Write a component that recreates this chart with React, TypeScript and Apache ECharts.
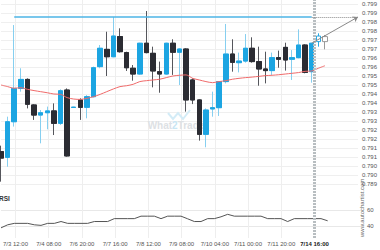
import React, { useEffect, useRef } from 'react';
import * as echarts from 'echarts';

// category slots (4h candles + projection space)
const categories: string[] = Array.from({ length: 55 }, (_, i) => String(i));
const tickLabels = ['7/3 12:00', '7/4 08:00', '7/6 20:00', '7/7 16:00', '7/8 12:00', '7/9 08:00', '7/10 04:00', '7/11 00:00', '7/11 20:00', '7/14 16:00'];
const firstLabelIndex = 2;
const labelStep = 5;

// [open, close, low, high]
const candles: number[][] = [
  [0.79130, 0.79094, 0.78963, 0.79163],
  [0.79098, 0.79296, 0.79046, 0.79324],
  [0.79296, 0.79481, 0.79269, 0.79833],
  [0.79481, 0.79531, 0.79463, 0.79593],
  [0.79531, 0.79393, 0.79370, 0.79537],
  [0.79389, 0.79333, 0.79306, 0.79393],
  [0.79333, 0.79346, 0.79176, 0.79361],
  [0.79346, 0.79356, 0.79254, 0.79380],
  [0.79356, 0.79287, 0.79222, 0.79398],
  [0.79287, 0.79468, 0.79278, 0.79476],
  [0.79472, 0.79106, 0.79102, 0.79481],
  [0.79375, 0.79377, 0.79373, 0.79379],
  [0.79417, 0.79376, 0.79306, 0.79426],
  [0.79376, 0.79435, 0.79315, 0.79444],
  [0.79435, 0.79596, 0.79431, 0.79602],
  [0.79602, 0.79704, 0.79593, 0.79722],
  [0.79698, 0.79657, 0.79550, 0.79796],
  [0.79657, 0.79772, 0.79654, 0.79878],
  [0.79769, 0.79685, 0.79680, 0.79815],
  [0.79680, 0.79596, 0.79578, 0.79685],
  [0.79593, 0.79561, 0.79524, 0.79611],
  [0.79561, 0.79732, 0.79556, 0.79735],
  [0.79732, 0.79680, 0.79676, 0.79911],
  [0.79676, 0.79578, 0.79487, 0.79713],
  [0.79574, 0.79561, 0.79457, 0.79630],
  [0.79561, 0.79732, 0.79556, 0.79735],
  [0.79732, 0.79682, 0.79556, 0.79754],
  [0.79682, 0.79700, 0.79500, 0.79704],
  [0.79700, 0.79417, 0.79352, 0.79704],
  [0.79528, 0.79417, 0.79394, 0.79537],
  [0.79417, 0.79226, 0.79191, 0.79420],
  [0.79226, 0.79361, 0.79154, 0.79370],
  [0.79367, 0.79374, 0.79324, 0.79463],
  [0.79374, 0.79519, 0.79328, 0.79522],
  [0.79519, 0.79672, 0.79509, 0.79839],
  [0.79672, 0.79626, 0.79574, 0.79754],
  [0.79624, 0.79633, 0.79570, 0.79680],
  [0.79633, 0.79704, 0.79624, 0.79783],
  [0.79704, 0.79630, 0.79624, 0.79765],
  [0.79630, 0.79589, 0.79496, 0.79713],
  [0.79589, 0.79580, 0.79509, 0.79685],
  [0.79580, 0.79652, 0.79556, 0.79680],
  [0.79652, 0.79643, 0.79596, 0.79691],
  [0.79709, 0.79639, 0.79580, 0.79735],
  [0.79643, 0.79652, 0.79528, 0.79694],
  [0.79652, 0.79722, 0.79648, 0.79809],
  [0.79722, 0.79570, 0.79565, 0.79726],
  [0.79574, 0.79732, 0.79513, 0.79735],
];

// projected candles after the last one
const projected: number[][] = [
  [0.79741, 0.79772, 0.79713, 0.79787],
  [0.79741, 0.79769, 0.79698, 0.79778],
];
const projectedColors = ['#2aa8e2', '#9a9a9a'];

const maValues = [
  0.79500, 0.79491, 0.79482, 0.79485, 0.79476, 0.79469, 0.79463, 0.79457, 0.79450, 0.79448,
  0.79430, 0.79422, 0.79420, 0.79426, 0.79435, 0.79448, 0.79463, 0.79478, 0.79491, 0.79496,
  0.79504, 0.79519, 0.79524, 0.79528, 0.79532, 0.79541, 0.79550, 0.79554, 0.79556, 0.79537,
  0.79528, 0.79519, 0.79513, 0.79519, 0.79524, 0.79532, 0.79537, 0.79541, 0.79544, 0.79548,
  0.79552, 0.79554, 0.79557, 0.79561, 0.79565, 0.79569, 0.79576, 0.79578, 0.79593, 0.79607,
];

const rsiValues = [
  37.7, 41.5, 43.3, 43.3, 43.3, 41.5, 40.8, 43.3, 43.3, 45.6,
  43.3, 43.3, 43.3, 43.3, 45.6, 45.6, 45.6, 49.2, 49.2, 49.2,
  49.2, 52.3, 52.3, 52.3, 49.2, 52.3, 52.3, 52.3, 49.0, 45.6,
  45.6, 49.2, 49.2, 51.5, 54.6, 52.3, 52.3, 52.3, 52.3, 52.3,
  49.2, 49.2, 49.2, 45.6, 49.2, 49.2, 49.2, 49.2, 49.2, 46.5,
];

const resistance = 0.79878;
const resistanceStart = 2;
const lastIndex = 47;
const arrowEndIndex = 54;
const priceMin = 0.7895;
const priceMax = 0.7995;
const priceStep = 0.0005;

const FONT = 'Liberation Sans, Arial, sans-serif';

const isLabelIndex = (i: number) => i >= firstLabelIndex && (i - firstLabelIndex) % labelStep === 0 && (i - firstLabelIndex) / labelStep < tickLabels.length;

export default function App() {
  const ref = useRef<HTMLDivElement>(null);

  useEffect(() => {
    if (!ref.current) return;
    const chart = echarts.init(ref.current, undefined, { renderer: 'svg' });

    const bodies = candles.map(([o, c]) => [o, c, Math.min(o, c), Math.max(o, c)]);
    const projData: any[] = candles.map(() => '-');
    projected.forEach((p, k) => {
      projData.push({
        value: p,
        itemStyle: { color: '#ffffff', color0: '#ffffff', borderColor: projectedColors[k], borderColor0: projectedColors[k], borderWidth: 1 },
      });
    });
    const maData = maValues;
    const lastClose = candles[lastIndex][1];

    const hiddenX = (gridIndex: number) => ({
      type: 'category' as const,
      gridIndex,
      data: categories,
      boundaryGap: false,
      show: false,
    });

    chart.setOption({
      animation: false,
      backgroundColor: '#ffffff',
      textStyle: { fontFamily: FONT },
      grid: [
        { left: 1, top: 0, width: 360, height: 238 },
        { left: 1, top: 4, width: 360, height: 180 },
        { left: 1, top: 210, width: 360, height: 16 },
      ],
      xAxis: [
        {
          type: 'category',
          gridIndex: 0,
          data: categories,
          boundaryGap: false,
          axisLine: { show: false },
          axisTick: { show: false },
          axisLabel: {
            interval: (i: number) => isLabelIndex(i),
            formatter: (_v: string, i: number) => {
              const k = (i - firstLabelIndex) / labelStep;
              const t = tickLabels[k] ?? '';
              return i === lastIndex ? '{b|' + t + '}' : t;
            },
            fontSize: 6,
            color: '#555',
            margin: 3,
            fontFamily: FONT,
            rich: { b: { fontSize: 6, fontWeight: 'bold', color: '#222', fontFamily: FONT } },
          },
          splitLine: {
            show: true,
            interval: (i: number) => isLabelIndex(i) && i !== lastIndex,
            lineStyle: { color: '#eeeeee', width: 1 },
          },
        },
        hiddenX(1),
        hiddenX(2),
      ],
      yAxis: [
        { type: 'value', gridIndex: 0, min: 0, max: 1, show: false },
        {
          type: 'value',
          gridIndex: 1,
          position: 'right',
          min: priceMin,
          max: priceMax,
          interval: priceStep,
          axisLine: { show: false },
          axisTick: { show: false },
          axisLabel: {
            fontSize: 6,
            color: '#555',
            margin: 4,
            fontFamily: FONT,
            formatter: (v: number) => (Math.floor(v * 1000 + 1e-6) / 1000).toFixed(3),
          },
          splitLine: { lineStyle: { color: '#efefef', width: 1 } },
        },
        {
          type: 'value',
          gridIndex: 2,
          position: 'right',
          min: 40,
          max: 60,
          interval: 20,
          axisLine: { show: false },
          axisTick: { show: false },
          axisLabel: { fontSize: 6, color: '#555', margin: 6, fontFamily: FONT },
          splitLine: { lineStyle: { color: '#e8e8e8', width: 1 } },
        },
      ],
      series: [
        {
          type: 'line',
          xAxisIndex: 0,
          yAxisIndex: 0,
          data: [],
          silent: true,
          markLine: {
            silent: true,
            symbol: ['none', 'none'],
            label: { show: false },
            lineStyle: { color: '#b8bec1', width: 3, type: [2, 1] },
            data: [{ xAxis: lastIndex }],
          },
        },
        {
          type: 'candlestick',
          xAxisIndex: 1,
          yAxisIndex: 1,
          data: candles,
          barWidth: 5,
          itemStyle: { color: '#86cff0', color0: '#55565c', borderColor: '#86cff0', borderColor0: '#55565c', borderWidth: 1 },
        },
        {
          type: 'candlestick',
          xAxisIndex: 1,
          yAxisIndex: 1,
          data: bodies,
          barWidth: 5,
          itemStyle: { color: '#1ca5e2', color0: '#2b2c33', borderColor: '#1ca5e2', borderColor0: '#2b2c33', borderWidth: 1 },
        },
        {
          type: 'candlestick',
          xAxisIndex: 1,
          yAxisIndex: 1,
          data: projData,
          barWidth: 5,
        },
        {
          type: 'line',
          xAxisIndex: 1,
          yAxisIndex: 1,
          data: maData,
          showSymbol: false,
          smooth: 0.3,
          lineStyle: { color: '#f06a6a', width: 1 },
          z: 3,
        },
        {
          type: 'line',
          xAxisIndex: 1,
          yAxisIndex: 1,
          data: [],
          markLine: {
            silent: true,
            symbol: ['none', 'none'],
            label: { show: false },
            data: [
              [
                { coord: [resistanceStart, resistance], lineStyle: { color: '#4cb5e6', width: 1.5, type: 'solid' } },
                { coord: [lastIndex, resistance] },
              ],
              [
                { coord: [lastIndex, resistance], lineStyle: { color: '#8a8a8a', width: 1, type: [1, 1] } },
                { coord: [arrowEndIndex, resistance] },
              ],
              [
                { coord: [lastIndex, lastClose], lineStyle: { color: '#8a8a8a', width: 1, type: 'solid' } },
                { coord: [arrowEndIndex, resistance], symbol: 'arrow', symbolSize: 5 },
              ],
            ],
          },
        },
        {
          type: 'line',
          xAxisIndex: 2,
          yAxisIndex: 2,
          data: rsiValues,
          showSymbol: false,
          clip: false,
          lineStyle: { color: '#555555', width: 1 },
        },
      ],
      graphic: [
        {
          type: 'text',
          x: -1,
          y: 198,
          style: { text: 'RSI', fontSize: 6.5, fontWeight: 'bold', fill: '#333', fontFamily: FONT, textVerticalAlign: 'middle' },
        },
        {
          type: 'text',
          x: 362,
          y: 237,
          rotation: Math.PI / 2,
          style: { text: 'www.autochartist.com', fontSize: 6, fill: '#666', fontFamily: FONT, textAlign: 'left', textVerticalAlign: 'middle' },
        },
        {
          type: 'polyline',
          shape: { points: [[168, 113], [173, 119], [178, 113], [183, 119], [190, 110]] },
          style: { stroke: '#d3ecf7', lineWidth: 2, fill: 'none' },
          z: 1,
        },
        {
          type: 'text',
          x: 176,
          y: 125,
          style: {
            text: '{a|What}{c|2}{a|Trade}',
            rich: {
              a: { fontSize: 10, fontWeight: 'bold', fill: '#dde1e4', color: '#dde1e4', fontFamily: FONT },
              c: { fontSize: 10, fontWeight: 'bold', fill: '#c8e6f4', color: '#c8e6f4', fontFamily: FONT },
            },
            textAlign: 'center',
            textVerticalAlign: 'middle',
          },
          z: 1,
        },
      ],
    });

    return () => chart.dispose();
  }, []);

  return (
    <div
      ref={ref}
      style={{ position: 'fixed', left: 0, top: 0, width: 380, height: 250, background: '#fff' }}
    />
  );
}
